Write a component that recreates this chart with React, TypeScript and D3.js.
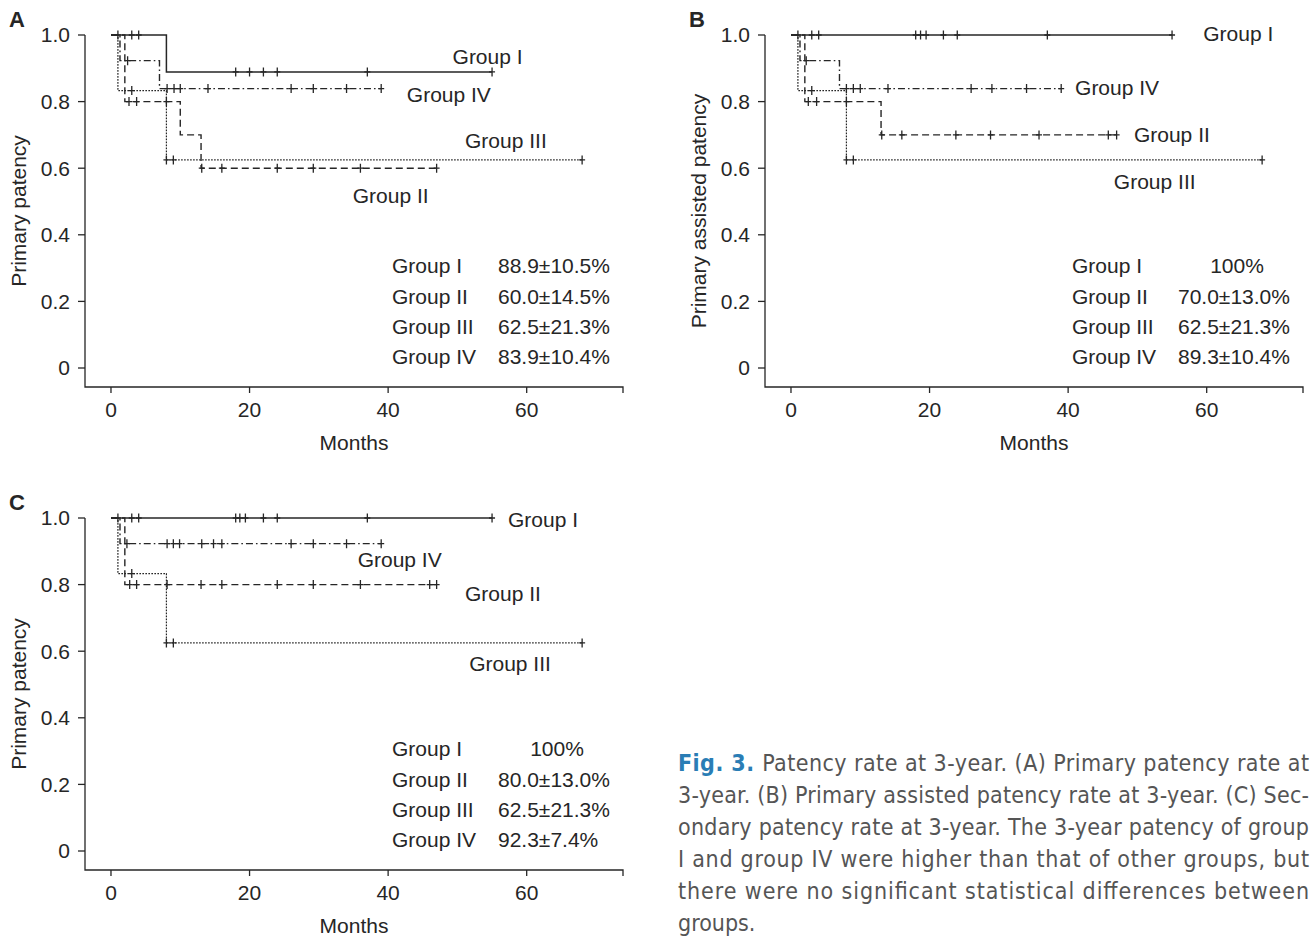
import React from "react"
import * as d3 from "d3"

// ── Data ──────────────────────────────────────────────────────────────────────

const GROUPS = ["Group I", "Group II", "Group III", "Group IV"]
const X_TICKS = [0, 20, 40, 60]
const Y_TICKS = [0, 0.2, 0.4, 0.6, 0.8, 1.0]

// steps: [month, survival] ; censors: months ; end: last month
const A_STEPS = [
  [[0, 1], [8, 0.889]],
  [[0, 1], [2, 0.8], [10, 0.7], [13, 0.6]],
  [[0, 1], [1, 0.833], [8, 0.625]],
  [[0, 1], [1.3, 0.923], [7, 0.839]],
]
const A_CENSOR = [
  [1, 3, 4, 18, 20, 22, 24, 37, 55],
  [2.6, 3.7, 8, 13.1, 16, 24, 29.2, 36, 47],
  [3, 8, 9, 68],
  [2.4, 8.1, 9.1, 10, 14, 26, 29.2, 34, 39],
]
const A_END = [55, 47, 68, 39]
const A_VALUES = ["88.9±10.5%", "60.0±14.5%", "62.5±21.3%", "83.9±10.4%"]

const B_STEPS = [
  [[0, 1]],
  [[0, 1], [2, 0.8], [13, 0.7]],
  [[0, 1], [1, 0.833], [8, 0.625]],
  [[0, 1], [1.3, 0.923], [7, 0.839]],
]
const B_CENSOR = [
  [1, 3, 4, 18, 18.7, 19.5, 22, 24, 37, 55],
  [2.5, 3.7, 8, 13.1, 16, 23.8, 28.8, 35.8, 45.8, 47],
  [3, 8, 9, 68],
  [2.2, 8, 9, 10, 14, 26, 29, 34, 39],
]
const B_END = [55, 47, 68, 39]
const B_VALUES = ["100%", "70.0±13.0%", "62.5±21.3%", "89.3±10.4%"]

const C_STEPS = [
  [[0, 1]],
  [[0, 1], [2, 0.8]],
  [[0, 1], [1, 0.833], [8, 0.625]],
  [[0, 1], [1.3, 0.923]],
]
const C_CENSOR = [
  [1, 3, 4, 18, 18.6, 19.4, 22, 24, 37, 55],
  [2.7, 3.7, 8.1, 13, 16, 24, 29.2, 36, 46, 47],
  [3, 8, 9, 68],
  [2.3, 8.1, 9, 9.9, 13.1, 14.8, 16, 26, 29.2, 34, 39],
]
const C_END = [55, 47, 68, 39]
const C_VALUES = ["100%", "80.0±13.0%", "62.5±21.3%", "92.3±7.4%"]

// curve labels in data units [month, survival]
const A_LABELS = [[49.3, 0.934], [34.9, 0.517], [51.1, 0.682], [42.7, 0.82]]
const B_LABELS = [[59.5, 1.003], [49.5, 0.7], [46.6, 0.559], [41, 0.841]]
const C_LABELS = [[57.3, 0.994], [51.1, 0.772], [51.7, 0.562], [35.6, 0.874]]

const CAPTION = [
  "Patency rate at 3-year. (A) Primary patency rate at",
  "3-year. (B) Primary assisted patency rate at 3-year. (C) Sec-",
  "ondary patency rate at 3-year. The 3-year patency of group",
  "I and group IV were higher than that of other groups, but",
  "there were no significant statistical differences between",
  "groups.",
]

// ── Styles ────────────────────────────────────────────────────────────────────

const INK = "#262626"
const FONT = "'Liberation Sans', Arial, Helvetica, sans-serif"
const FS = 21
const DASH = [null, "7 4", "1.6 1.4", "7 3 1.6 3"]
const WIDTH = [1.5, 1.4, 1.2, 1.4]

const survAt = (steps, t) => {
  let s = steps[0][1]
  for (const [m, v] of steps) if (m <= t) s = v
  return s
}

function Panel({ ox, oy, letter, yLabel, steps, censor, ends, labels, values }) {
  const x = d3.scaleLinear().domain([-3.75, 73.9]).range([ox, ox + 538])
  const y = d3.scaleLinear().domain([0, 1]).range([oy + 333, oy])
  const yBottom = y(-0.057)
  const line = d3
    .line()
    .x(d => x(d[0]))
    .y(d => y(d[1]))
    .curve(d3.curveStepAfter)

  return (
    <g fontFamily={FONT} fill={INK}>
      <text x={ox - 76} y={oy - 8} fontSize={22} fontWeight="bold">
        {letter}
      </text>

      {/* axes */}
      <path
        d={`M${ox},${oy}V${yBottom}H${ox + 538}v6`}
        fill="none"
        stroke={INK}
        strokeWidth={1.3}
      />
      {Y_TICKS.map(t => (
        <g key={t}>
          <line x1={ox - 7} x2={ox} y1={y(t)} y2={y(t)} stroke={INK} strokeWidth={1.3} />
          <text x={ox - 15} y={y(t)} dy="0.35em" textAnchor="end" fontSize={FS}>
            {t === 0 ? "0" : t.toFixed(1)}
          </text>
        </g>
      ))}
      {X_TICKS.map(t => (
        <g key={t}>
          <line x1={x(t)} x2={x(t)} y1={yBottom} y2={yBottom + 6} stroke={INK} strokeWidth={1.3} />
          <text x={x(t)} y={yBottom + 30} textAnchor="middle" fontSize={FS}>
            {t}
          </text>
        </g>
      ))}
      <text x={ox + 269} y={oy + 415} textAnchor="middle" fontSize={FS}>
        Months
      </text>
      <text
        transform={`translate(${ox - 59},${oy + 176}) rotate(-90)`}
        textAnchor="middle"
        fontSize={FS}
      >
        {yLabel}
      </text>

      {/* curves */}
      {GROUPS.map((g, i) => {
        const pts = [...steps[i], [ends[i], steps[i][steps[i].length - 1][1]]]
        return (
          <g key={g}>
            <path
              d={line(pts)}
              fill="none"
              stroke={INK}
              strokeWidth={WIDTH[i]}
              strokeDasharray={DASH[i] || undefined}
            />
            {censor[i].map((c, j) => {
              const cx = x(c)
              const cy = y(survAt(steps[i], c))
              return (
                <path
                  key={j}
                  d={`M${cx},${cy - 4.5}V${cy + 4.5}M${cx - 3},${cy}H${cx + 3}`}
                  stroke={INK}
                  strokeWidth={1.3}
                />
              )
            })}
            <text x={x(labels[i][0])} y={y(labels[i][1])} dy="0.35em" fontSize={FS}>
              {g}
            </text>
          </g>
        )
      })}

      {/* table */}
      {GROUPS.map((g, i) => (
        <g key={g} fontSize={FS}>
          <text x={ox + 307} y={oy + 231 + i * 30.3} dy="0.35em">
            {g}
          </text>
          {values[i] === "100%" ? (
            <text x={ox + 472} y={oy + 231 + i * 30.3} dy="0.35em" textAnchor="middle">
              {values[i]}
            </text>
          ) : (
            <text x={ox + 413} y={oy + 231 + i * 30.3} dy="0.35em">
              {values[i]}
            </text>
          )}
        </g>
      ))}
    </g>
  )
}

export default function App() {
  const capFont = "'Liberation Sans Narrow', 'DejaVu Sans Condensed', 'Roboto Condensed', sans-serif"
  return (
    <svg
      width={1310}
      height={938}
      style={{ position: "absolute", left: 0, top: 0, background: "#fff" }}
    >
      <rect width={1310} height={938} fill="#fff" />
      <Panel
        ox={85}
        oy={35}
        letter="A"
        yLabel="Primary patency"
        steps={A_STEPS}
        censor={A_CENSOR}
        ends={A_END}
        labels={A_LABELS}
        values={A_VALUES}
      />
      <Panel
        ox={765}
        oy={35}
        letter="B"
        yLabel="Primary assisted patency"
        steps={B_STEPS}
        censor={B_CENSOR}
        ends={B_END}
        labels={B_LABELS}
        values={B_VALUES}
      />
      <Panel
        ox={85}
        oy={518}
        letter="C"
        yLabel="Primary patency"
        steps={C_STEPS}
        censor={C_CENSOR}
        ends={C_END}
        labels={C_LABELS}
        values={C_VALUES}
      />

      {/* caption */}
      <g fontFamily={capFont} fontSize={23} fill="#555">
        {CAPTION.map((ln, i) => {
          const last = i === CAPTION.length - 1
          return (
            <text
              key={i}
              x={678}
              y={771 + i * 32}
              textLength={last ? undefined : 631}
              lengthAdjust="spacing"
            >
              {i === 0 && (
                <tspan fill="#2a7db5" fontWeight="bold">
                  Fig. 3.{" "}
                </tspan>
              )}
              {ln}
            </text>
          )
        })}
      </g>
    </svg>
  )
}
